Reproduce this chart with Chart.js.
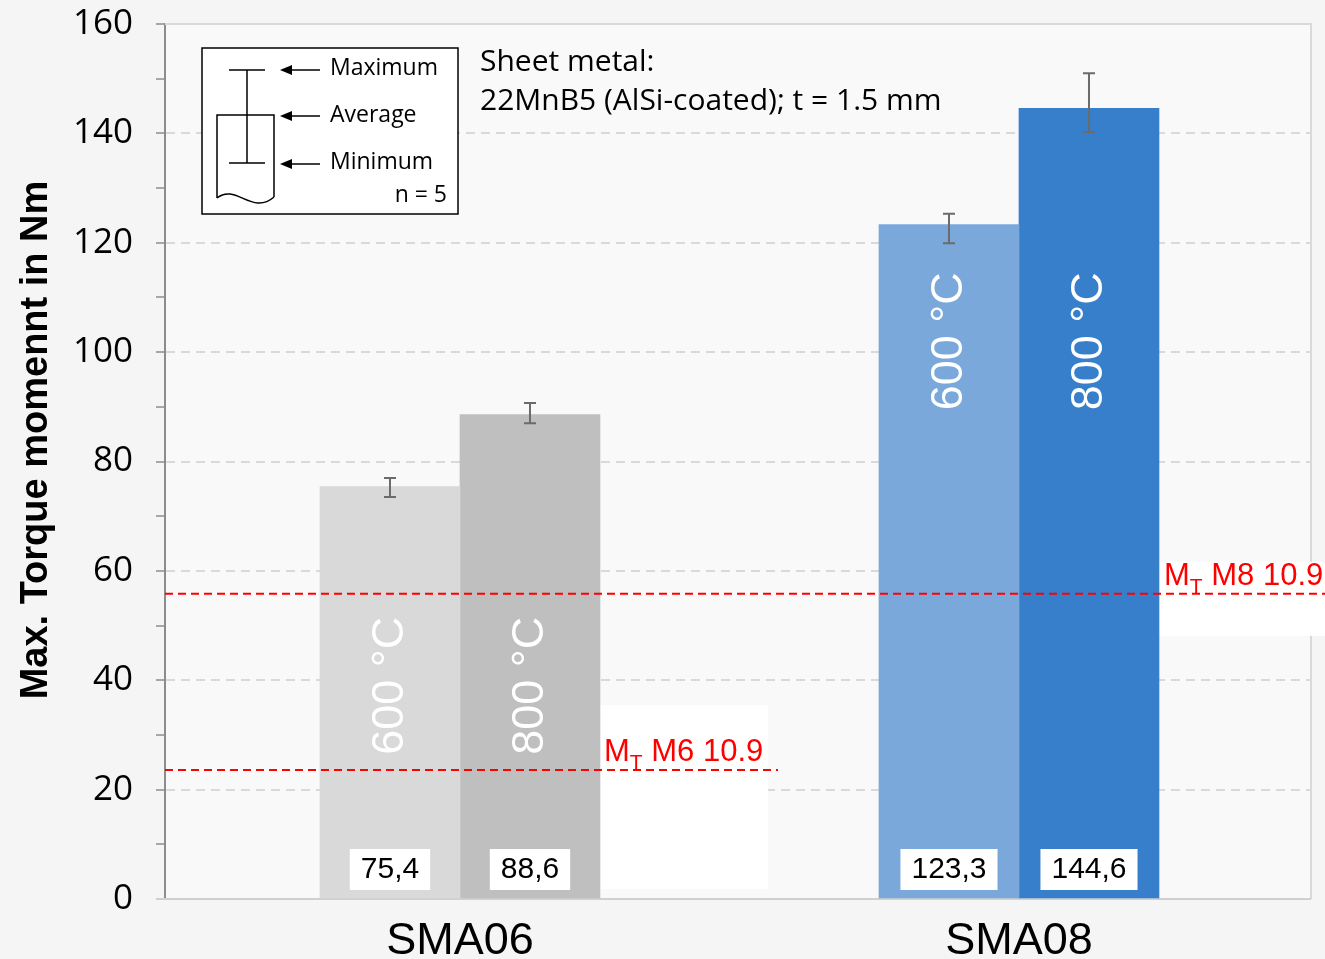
<!DOCTYPE html>
<html>
<head>
<meta charset="utf-8">
<title>Max. torque moment – SMA06 / SMA08</title>
<script src="https://cdn.jsdelivr.net/npm/chart.js@4.4.1/dist/chart.umd.min.js"></script>
<style>
  html, body { margin: 0; padding: 0; background: #f5f5f5; }
  #wrap { position: relative; width: 1325px; height: 959px; }
  canvas { display: block; }
</style>
</head>
<body>
<div id="wrap"><canvas id="chart" width="1325" height="959"></canvas></div>
<script>
// ---- data ----
const categories = ['SMA06', 'SMA08'];
const temperatures = ['600 °C', '800 °C'];

// average torque per screw type
const avg600 = [75.4, 123.3];
const avg800 = [88.6, 144.6];

// min / max of the n = 5 samples
const min600 = [73.5, 119.9];
const max600 = [77.0, 125.3];
const min800 = [87.0, 140.2];
const max800 = [90.7, 151.0];

// bar colours per category
const colors600 = ['#d9d9d9', '#7aa8db'];
const colors800 = ['#bfbfbf', '#377fcb'];

// tightening torque limits M_T
const limitValues = [23.6, 55.8];
const limitNames = ['M6 10.9', 'M8 10.9'];

// y axis
const yMin = 0;
const yMax = 160;
const yStep = 10;
const yLabelStep = 20;

const FONT = '"Liberation Sans", Arial, sans-serif';
const FONT2 = '"Open Sans", "Liberation Sans", Arial, sans-serif';
const fmt = v => v.toFixed(1).replace('.', ',');

const decorations = {
  id: 'decorations',
  beforeDraw(chart) {
    const { ctx, chartArea: a } = chart;
    ctx.save();
    ctx.fillStyle = '#f9f9f9';
    ctx.fillRect(a.left, a.top, a.right - a.left, a.bottom - a.top);
    ctx.restore();
  },
  beforeDatasetsDraw(chart) {
    const { ctx, chartArea: a } = chart;
    const ys = chart.scales.y;
    ctx.save();
    // plot frame (top and right)
    ctx.strokeStyle = '#d9d9d9';
    ctx.lineWidth = 2;
    ctx.beginPath();
    ctx.moveTo(a.left, a.top);
    ctx.lineTo(a.right + 1, a.top);
    ctx.lineTo(a.right + 1, a.bottom);
    ctx.stroke();
    // zero line
    ctx.strokeStyle = '#d0d0d0';
    ctx.beginPath();
    ctx.moveTo(a.left - 9, ys.getPixelForValue(0));
    ctx.lineTo(a.right + 1, ys.getPixelForValue(0));
    ctx.stroke();

    // white panels behind the limit labels
    const bar06 = chart.getDatasetMeta(1).data[0];
    const bar08 = chart.getDatasetMeta(1).data[1];
    const y6 = ys.getPixelForValue(limitValues[0]);
    const y8 = ys.getPixelForValue(limitValues[1]);
    ctx.fillStyle = '#ffffff';
    const l6 = bar06.x + bar06.width / 2;
    ctx.fillRect(l6, y6 - 65, 168, ys.getPixelForValue(0) - 10 - (y6 - 65));
    const l8 = bar08.x + bar08.width / 2;
    ctx.fillRect(l8, y8 - 32, chart.width - l8, 74);
    ctx.restore();
  },
  afterDatasetsDraw(chart) {
    const { ctx, chartArea: a } = chart;
    const ys = chart.scales.y;
    const ranges = [[min600, max600], [min800, max800]];
    const avgs = [avg600, avg800];
    const tempLevel = [39, 102];
    ctx.save();

    chart.data.datasets.forEach((ds, di) => {
      const meta = chart.getDatasetMeta(di);
      meta.data.forEach((bar, i) => {
        const x = bar.x;
        // min-max whisker
        const yTop = ys.getPixelForValue(ranges[di][1][i]);
        const yBot = ys.getPixelForValue(ranges[di][0][i]);
        ctx.strokeStyle = '#6b6b6b';
        ctx.lineWidth = 2;
        ctx.beginPath();
        ctx.moveTo(x, yTop); ctx.lineTo(x, yBot);
        ctx.moveTo(x - 6, yTop); ctx.lineTo(x + 6, yTop);
        ctx.moveTo(x - 6, yBot); ctx.lineTo(x + 6, yBot);
        ctx.stroke();

        // value label boxed at the foot of the bar
        const txt = fmt(avgs[di][i]);
        ctx.font = '30px ' + FONT;
        const tw = ctx.measureText(txt).width;
        const cy = ys.getPixelForValue(0) - 30;
        ctx.fillStyle = '#ffffff';
        ctx.fillRect(x - tw / 2 - 11, cy - 20, tw + 22, 41);
        ctx.fillStyle = '#000000';
        ctx.textAlign = 'center';
        ctx.textBaseline = 'middle';
        ctx.fillText(txt, x, cy + 1);

        // rotated temperature label inside the bar
        ctx.save();
        ctx.translate(x, ys.getPixelForValue(tempLevel[i]));
        ctx.rotate(-Math.PI / 2);
        ctx.font = '45px ' + FONT;
        ctx.fillStyle = '#ffffff';
        ctx.textAlign = 'center';
        ctx.textBaseline = 'middle';
        ctx.fillText(ds.label, 0, 1);
        ctx.restore();
      });
    });

    // torque limit lines
    const bar06 = chart.getDatasetMeta(1).data[0];
    const bar08 = chart.getDatasetMeta(1).data[1];
    const ends = [bar06.x + bar06.width / 2 + 178, chart.width];
    const labelX = [bar06.x + bar06.width / 2 + 4, bar08.x + bar08.width / 2 + 5];
    limitValues.forEach((v, k) => {
      const y = ys.getPixelForValue(v);
      ctx.strokeStyle = '#ff0000';
      ctx.lineWidth = 2;
      ctx.setLineDash([8, 5]);
      ctx.beginPath();
      ctx.moveTo(a.left, y);
      ctx.lineTo(ends[k], y);
      ctx.stroke();
      ctx.setLineDash([]);

      ctx.fillStyle = '#ff0000';
      ctx.textAlign = 'left';
      ctx.textBaseline = 'alphabetic';
      let x = labelX[k];
      const base = y - 9;
      ctx.font = '31px ' + FONT;
      ctx.fillText('M', x, base);
      x += ctx.measureText('M').width;
      ctx.font = '21px ' + FONT;
      ctx.fillText('T', x, base + 8);
      x += ctx.measureText('T').width;
      ctx.font = '31px ' + FONT;
      ctx.fillText(' ' + limitNames[k], x, base);
    });
    ctx.restore();
  },
  afterDraw(chart) {
    const { ctx } = chart;
    ctx.save();

    // y axis title
    ctx.save();
    ctx.translate(37, 440);
    ctx.rotate(-Math.PI / 2);
    ctx.font = 'bold 38px ' + FONT;
    ctx.fillStyle = '#000';
    ctx.textAlign = 'center';
    ctx.textBaseline = 'middle';
    ctx.fillText('Max. Torque momennt in Nm', 0, 0);
    ctx.restore();

    // material note
    ctx.font = '30px ' + FONT2;
    ctx.fillStyle = '#000';
    ctx.textAlign = 'left';
    ctx.textBaseline = 'middle';
    ctx.fillText('Sheet metal:', 480, 62);
    ctx.fillText('22MnB5 (AlSi-coated); t = 1.5 mm', 480, 101);

    // key explaining the whisker
    ctx.fillStyle = '#ffffff';
    ctx.fillRect(202, 48, 256, 166);
    ctx.strokeStyle = '#000';
    ctx.lineWidth = 1.5;
    ctx.strokeRect(202, 48, 256, 166);

    ctx.lineWidth = 1.5;
    ctx.beginPath();
    ctx.moveTo(247, 70); ctx.lineTo(247, 163);
    ctx.moveTo(229, 70); ctx.lineTo(265, 70);
    ctx.moveTo(229, 163); ctx.lineTo(265, 163);
    ctx.moveTo(217, 198); ctx.lineTo(217, 115); ctx.lineTo(274, 115); ctx.lineTo(274, 197);
    ctx.moveTo(217, 198);
    ctx.bezierCurveTo(236, 183, 252, 216, 274, 197);
    ctx.stroke();

    [70, 116, 164].forEach(y => {
      ctx.beginPath();
      ctx.moveTo(320, y); ctx.lineTo(290, y);
      ctx.stroke();
      ctx.beginPath();
      ctx.moveTo(280, y); ctx.lineTo(292, y - 5); ctx.lineTo(292, y + 5);
      ctx.closePath();
      ctx.fillStyle = '#000';
      ctx.fill();
    });

    ctx.font = '23px ' + FONT2;
    ctx.fillStyle = '#000';
    ctx.textBaseline = 'middle';
    ctx.textAlign = 'left';
    ctx.fillText('Maximum', 330, 68);
    ctx.fillText('Average', 330, 115);
    ctx.fillText('Minimum', 330, 162);
    ctx.textAlign = 'right';
    ctx.fillText('n = 5', 447, 195);

    ctx.restore();
  }
};

new Chart(document.getElementById('chart'), {
  type: 'bar',
  data: {
    datasets: [
      {
        label: temperatures[0],
        data: avg600.map((v, i) => ({ x: i, y: v })),
        backgroundColor: colors600,
        barThickness: 140
      },
      {
        label: temperatures[1],
        data: avg800.map((v, i) => ({ x: i, y: v })),
        backgroundColor: colors800,
        barThickness: 140
      }
    ]
  },
  options: {
    responsive: false,
    animation: false,
    devicePixelRatio: 1,
    layout: { padding: { top: 24, right: 15, bottom: 0, left: 0 } },
    plugins: {
      legend: { display: false },
      tooltip: { enabled: false }
    },
    scales: {
      x: {
        type: 'linear',
        offset: false,
        min: -0.5277,
        max: 1.5206,
        afterBuildTicks(s) { s.ticks = categories.map((_, i) => ({ value: i })); },
        afterFit(s) { s.height = 60; s.paddingLeft = 0; s.paddingRight = 0; },
        grid: { display: false, drawTicks: false, offset: false },
        border: { display: false },
        ticks: {
          autoSkip: false,
          maxRotation: 0,
          padding: 16,
          color: '#000',
          font: { family: FONT, size: 45 },
          callback: v => categories[v] ?? ''
        }
      },
      y: {
        min: yMin,
        max: yMax,
        afterFit(s) { s.width = 165; s.paddingTop = 0; s.paddingBottom = 0; },
        ticks: {
          stepSize: yStep,
          padding: 23,
          color: '#000',
          font: { family: FONT2, size: 35 },
          callback: v => (v % yLabelStep === 0 ? v : '')
        },
        grid: {
          color: c => (c.tick && c.tick.value % yLabelStep === 0 && c.tick.value !== 0) ? '#d9d9d9' : 'rgba(0,0,0,0)',
          lineWidth: 2,
          tickLength: 9,
          tickColor: '#8c8c8c',
          tickWidth: 1.5
        },
        border: { display: true, color: '#8c8c8c', width: 2, dash: [9, 6] }
      }
    }
  },
  plugins: [decorations]
});
</script>
</body>
</html>
